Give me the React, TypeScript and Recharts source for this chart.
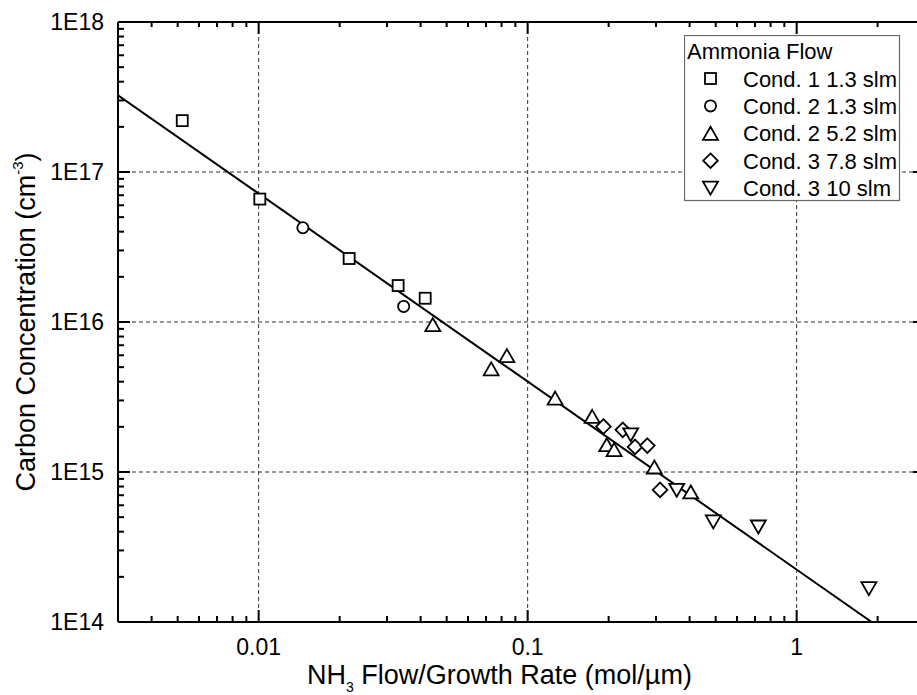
import { ScatterChart, Scatter, XAxis, YAxis, ReferenceLine } from "recharts";

const FONT = "'Liberation Sans', Arial, Helvetica, sans-serif";

// log axes: every decade gets minor ticks at 2..9
const X_TICKS = [
  0.004, 0.005, 0.006, 0.007, 0.008, 0.009,
  0.01, 0.02, 0.03, 0.04, 0.05, 0.06, 0.07, 0.08, 0.09,
  0.1, 0.2, 0.3, 0.4, 0.5, 0.6, 0.7, 0.8, 0.9,
  1, 2,
];
const X_MAJOR = [0.01, 0.1, 1];
const X_TICK_LABELS = ["0.01", "0.1", "1"];

const Y_TICKS = [
  2e14, 3e14, 4e14, 5e14, 6e14, 7e14, 8e14, 9e14,
  1e15, 2e15, 3e15, 4e15, 5e15, 6e15, 7e15, 8e15, 9e15,
  1e16, 2e16, 3e16, 4e16, 5e16, 6e16, 7e16, 8e16, 9e16,
  1e17, 2e17, 3e17, 4e17, 5e17, 6e17, 7e17, 8e17, 9e17,
];
const Y_MAJOR = [1e14, 1e15, 1e16, 1e17, 1e18];
const Y_TICK_LABELS = ["1E14", "1E15", "1E16", "1E17", "1E18"];

// x: NH3 flow / growth rate (mol/µm), y: carbon concentration (cm^-3)
const cond1_13slm = [
  { x: 0.0052, y: 2.2e17 },
  { x: 0.0101, y: 6.6e16 },
  { x: 0.0217, y: 2.65e16 },
  { x: 0.033, y: 1.75e16 },
  { x: 0.0416, y: 1.44e16 },
];

const cond2_13slm = [
  { x: 0.0146, y: 4.25e16 },
  { x: 0.0346, y: 1.27e16 },
];

const cond2_52slm = [
  { x: 0.0444, y: 9.6e15 },
  { x: 0.0732, y: 4.87e15 },
  { x: 0.0837, y: 5.97e15 },
  { x: 0.1265, y: 3.11e15 },
  { x: 0.1737, y: 2.35e15 },
  { x: 0.1968, y: 1.52e15 },
  { x: 0.2096, y: 1.41e15 },
  { x: 0.2958, y: 1.08e15 },
  { x: 0.404, y: 7.36e14 },
];

const cond3_78slm = [
  { x: 0.1913, y: 2.01e15 },
  { x: 0.2258, y: 1.91e15 },
  { x: 0.2507, y: 1.47e15 },
  { x: 0.2786, y: 1.5e15 },
  { x: 0.3106, y: 7.6e14 },
];

const cond3_10slm = [
  { x: 0.2416, y: 1.77e15 },
  { x: 0.3582, y: 7.55e14 },
  { x: 0.49, y: 4.65e14 },
  { x: 0.7203, y: 4.3e14 },
  { x: 1.856, y: 1.67e14 },
];

// power-law fit, drawn from the left edge down to where it meets 1E14
const fitLine = [
  { x: 0.003, y: 3.25e17 },
  { x: 1.9, y: 1e14 },
];

type Kind = "square" | "circle" | "up" | "diamond" | "down";

const SERIES: { name: string; kind: Kind; data: { x: number; y: number }[] }[] = [
  { name: "Cond. 1 1.3 slm", kind: "square", data: cond1_13slm },
  { name: "Cond. 2 1.3 slm", kind: "circle", data: cond2_13slm },
  { name: "Cond. 2 5.2 slm", kind: "up", data: cond2_52slm },
  { name: "Cond. 3 7.8 slm", kind: "diamond", data: cond3_78slm },
  { name: "Cond. 3 10 slm", kind: "down", data: cond3_10slm },
];

const MARK = { fill: "#fff", stroke: "#000", strokeWidth: 1.8 };

function Marker({ kind, cx, cy }: { kind: Kind; cx: number; cy: number }) {
  switch (kind) {
    case "square":
      return <rect x={cx - 5.5} y={cy - 5.5} width={11} height={11} {...MARK} />;
    case "circle":
      return <circle cx={cx} cy={cy} r={5.6} {...MARK} />;
    case "up":
      return <path d={`M${cx},${cy - 6.5}L${cx + 7.5},${cy + 6.5}L${cx - 7.5},${cy + 6.5}Z`} {...MARK} />;
    case "down":
      return <path d={`M${cx},${cy + 6.5}L${cx + 7.5},${cy - 6.5}L${cx - 7.5},${cy - 6.5}Z`} {...MARK} />;
    case "diamond":
      return <path d={`M${cx},${cy - 7.3}L${cx + 7.3},${cy}L${cx},${cy + 7.3}L${cx - 7.3},${cy}Z`} {...MARK} />;
  }
  return null;
}

const TICK = { stroke: "#000", strokeWidth: 2 };
const AXIS = { stroke: "#000", strokeWidth: 2 };
const GRID = { stroke: "#333", strokeWidth: 1, strokeDasharray: "4 3" };

// inward ticks on both ends of a full-height reference line (bottom + top axis)
function XTickPair(props: any, len: number, topLen: number) {
  const { x1, y1, y2 } = props;
  const top = Math.min(y1, y2);
  const bottom = Math.max(y1, y2);
  return (
    <g>
      <line x1={x1} x2={x1} y1={bottom} y2={bottom - len} {...TICK} />
      <line x1={x1} x2={x1} y1={top} y2={top + topLen} {...TICK} />
    </g>
  );
}

// inward ticks on both ends of a full-width reference line (left + right axis)
function YTickPair(props: any, len: number) {
  const { x1, x2, y1 } = props;
  const left = Math.min(x1, x2);
  const right = Math.max(x1, x2);
  return (
    <g>
      <line x1={left} x2={left + len} y1={y1} y2={y1} {...TICK} />
      <line x1={right} x2={right - len} y1={y1} y2={y1} {...TICK} />
    </g>
  );
}

function BottomLabel(props: any) {
  const { x, y, payload } = props;
  const i = X_MAJOR.indexOf(payload.value);
  if (i < 0) return <g />;
  return (
    <text x={x} y={y + 33} textAnchor="middle" fontSize={23} fontFamily={FONT} fill="#000">
      {X_TICK_LABELS[i]}
    </text>
  );
}

function LeftLabel(props: any) {
  const { x, y, payload } = props;
  const i = Y_MAJOR.indexOf(payload.value);
  if (i < 0) return <g />;
  return (
    <text x={x - 14} y={y + 8} textAnchor="end" fontSize={23} fontFamily={FONT} fill="#000">
      {Y_TICK_LABELS[i]}
    </text>
  );
}

function XTitle({ viewBox }: any) {
  return (
    <text x={viewBox.x + 189} y={viewBox.y + 62} fontSize={27} fontFamily={FONT} fill="#000">
      <tspan>NH</tspan>
      <tspan fontSize={14} dy={8}>3</tspan>
      <tspan dy={-8}> Flow/Growth Rate (mol/µm)</tspan>
    </text>
  );
}

function YTitle({ viewBox }: any) {
  const cx = viewBox.x + 35;
  const cy = viewBox.y + viewBox.height / 2;
  return (
    <text
      x={cx}
      y={cy}
      transform={`rotate(-90 ${cx} ${cy})`}
      textAnchor="middle"
      fontSize={27}
      fontFamily={FONT}
      fill="#000"
    >
      <tspan>Carbon Concentration (cm</tspan>
      <tspan fontSize={15} dy={-12}>-3</tspan>
      <tspan dy={12}>)</tspan>
    </text>
  );
}

function LegendBox() {
  return (
    <svg
      width={217}
      height={167}
      style={{ position: "absolute", left: 684, top: 35, fontFamily: FONT }}
    >
      <rect x={0.5} y={0.5} width={215} height={165} fill="#fff" stroke="#666" strokeWidth={1.2} />
      <text x={3} y={24} fontSize={22} fill="#000">
        Ammonia Flow
      </text>
      {SERIES.map((s, i) => {
        const cy = 43.5 + i * 27.4;
        return (
          <g key={s.name}>
            <Marker kind={s.kind} cx={26.5} cy={cy} />
            <text x={59} y={cy + 8} fontSize={22} fill="#000">
              {s.name}
            </text>
          </g>
        );
      })}
    </svg>
  );
}

export default function App() {
  return (
    <div
      style={{
        position: "absolute",
        left: 0,
        top: 0,
        width: 917,
        height: 695,
        overflow: "hidden",
        background: "#fff",
      }}
    >
      <ScatterChart width={917} height={695} margin={{ top: 22, right: -8, bottom: 0, left: 0 }}>
        <XAxis
          dataKey="x"
          type="number"
          scale="log"
          domain={[0.003, 3]}
          allowDataOverflow
          ticks={X_MAJOR}
          interval={0}
          tickSize={0}
          tickMargin={0}
          tickLine={false}
          tick={(p: any) => <BottomLabel {...p} />}
          axisLine={AXIS}
          height={73}
          label={(p: any) => <XTitle {...p} />}
        />
        <YAxis
          dataKey="y"
          type="number"
          scale="log"
          domain={[1e14, 1e18]}
          allowDataOverflow
          ticks={Y_MAJOR}
          interval={0}
          tickSize={0}
          tickMargin={0}
          tickLine={false}
          tick={(p: any) => <LeftLabel {...p} />}
          axisLine={AXIS}
          width={118}
          label={(p: any) => <YTitle {...p} />}
        />

        {/* dashed grid at each decade */}
        {X_MAJOR.map((v) => (
          <ReferenceLine key={`gx${v}`} x={v} {...GRID} />
        ))}
        {Y_MAJOR.slice(1, -1).map((v) => (
          <ReferenceLine key={`gy${v}`} y={v} {...GRID} />
        ))}

        {/* box: top and right edges */}
        <ReferenceLine y={1e18} ifOverflow="visible" {...AXIS} />
        <ReferenceLine x={3} ifOverflow="visible" {...AXIS} />

        {/* inward ticks on all four sides */}
        {X_TICKS.map((v) => {
          const major = X_MAJOR.includes(v);
          return (
            <ReferenceLine
              key={`tx${v}`}
              x={v}
              ifOverflow="visible"
              shape={(p: any) => XTickPair(p, major ? 12 : 6, major ? 12 : 5)}
            />
          );
        })}
        {[...Y_TICKS, 1e14, 1e18].map((v) => {
          const major = Y_MAJOR.includes(v);
          return (
            <ReferenceLine
              key={`ty${v}`}
              y={v}
              ifOverflow="visible"
              shape={(p: any) => YTickPair(p, major ? 12 : 6)}
            />
          );
        })}

        <Scatter
          data={fitLine}
          line={{ stroke: "#000", strokeWidth: 2 }}
          shape={() => <g />}
          isAnimationActive={false}
        />
        {SERIES.map((s) => (
          <Scatter
            key={s.name}
            name={s.name}
            data={s.data}
            shape={(p: any) => <Marker kind={s.kind} cx={p.cx} cy={p.cy} />}
            isAnimationActive={false}
          />
        ))}
      </ScatterChart>
      <LegendBox />
    </div>
  );
}
